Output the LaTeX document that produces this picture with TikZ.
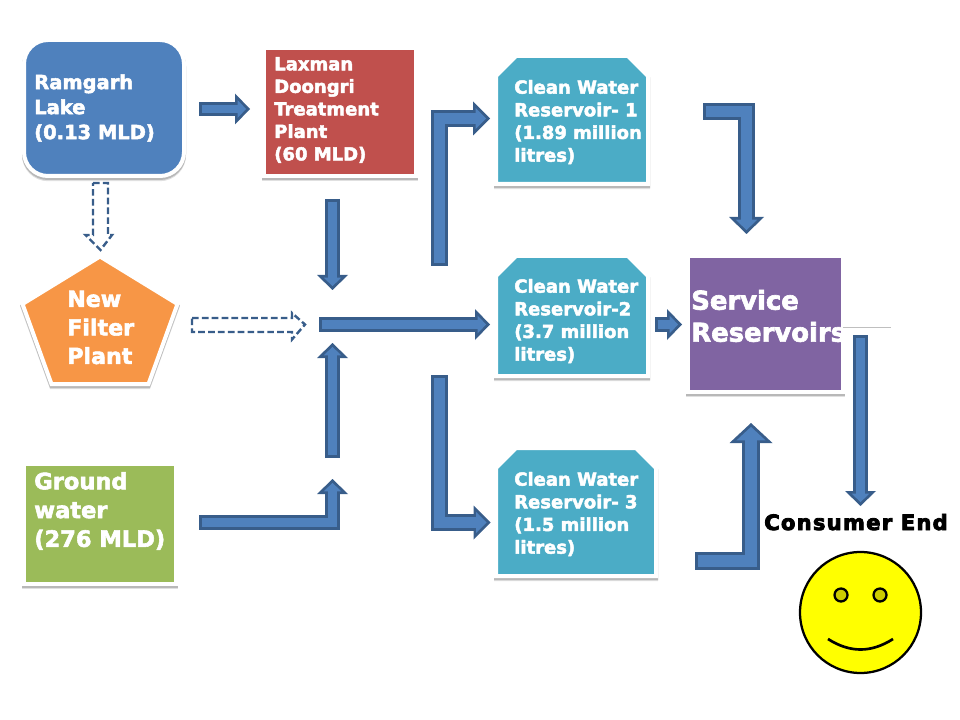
\documentclass[tikz,border=0pt]{standalone}
\usepackage{fontspec}
\setmainfont{DejaVu Sans}[BoldFeatures={FakeBold=2.5}]
\newfontfamily\blackfont{DejaVu Sans Bold}[FakeBold=4,LetterSpace=6]
\usetikzlibrary{arrows.meta}

\definecolor{lakeblue}{HTML}{4F81BD}
\definecolor{plantred}{HTML}{C0504D}
\definecolor{filterorange}{HTML}{F79646}
\definecolor{groundgreen}{HTML}{9BBB59}
\definecolor{clearteal}{HTML}{4BACC6}
\definecolor{servicepurple}{HTML}{8064A2}
\definecolor{flowedgecol}{HTML}{385D8A}
\definecolor{faceyellow}{HTML}{FFFF00}
\definecolor{eyeyellow}{HTML}{CCCC00}

\def\px{0.75pt}
\newcommand{\txt}[2]{\fontsize{#1}{#2}\selectfont\bfseries}

\tikzset{
  panel/.style={draw=white, line width=3pt, inner sep=0pt,
    preaction={draw=black!12, line width=3pt, transform canvas={yshift=-2.4pt}},
    preaction={draw=black!28, line width=3pt, transform canvas={yshift=-1.5pt}}},
  label text/.style={text=white, align=left, anchor=west, inner sep=0pt},
  flowedge/.style={draw=flowedgecol},
  flowfill/.style={draw=lakeblue},
  dashflow/.style={draw=flowedgecol, fill=white, line width=1.8pt, dash pattern=on 5pt off 2.4pt},
}

% block arrow: shaft width, head width, head length, path
\newcommand{\flowarrow}[4]{%
  \pgfmathsetmacro\headLo{#3*0.75}%
  \pgfmathsetmacro\headWo{#2*0.75}%
  \pgfmathsetmacro\headLi{(#3-6.5)*0.75}%
  \pgfmathsetmacro\headWi{#2*(#3-6.5)/#3*0.75}%
  \draw[flowedge, line width=#1*\px, -{Triangle[length=\headLo pt,width=\headWo pt,line width=0pt]}] #4;
  \draw[flowfill, line width=(#1-5.4)*\px, shorten <=2pt, shorten >=2.9pt,
    -{Triangle[length=\headLi pt,width=\headWi pt,line width=0pt]}] #4;
}

\begin{document}
\begin{tikzpicture}[x=0.75pt, y=-0.75pt]
  \useasboundingbox (0,0) rectangle (960,720);

  % sources and plants
  \node[panel, fill=lakeblue, rounded corners=18pt, minimum width=160*\px, minimum height=136*\px] (lake) at (104,108) {};
  \node[panel, fill=plantred, minimum width=152*\px, minimum height=128*\px] (plant) at (340,112) {};
  \node[panel, fill=groundgreen, minimum width=152*\px, minimum height=120*\px] (ground) at (100,524) {};
  \draw[panel, fill=filterorange] (100,256.5) coordinate (filterTop) -- (177.5,304) -- (148.5,384) -- (51.5,384) -- (22.5,304) -- cycle;
  \node[label text, font=\txt{14.6}{18.75}] (lakeText) at (34,108) {Ramgarh\\Lake\\(0.13 MLD)};
  \node[label text, font=\txt{13.5}{16.9}] (plantText) at (274,110) {Laxman\\Doongri\\Treatment\\Plant\\(60 MLD)};
  \node[label text, font=\txt{16.9}{21.6}] (groundText) at (34,511) {Ground\\water\\(276 MLD)};
  \node[label text, font=\txt{16.6}{21.4}] (filterText) at (67,327.5) {New\\Filter\\Plant};

  % reservoirs, top corners snipped
  \foreach \n/\r/\t/\b in {One/648/56/184, Two/648/256/376, Three/656/448/576}
    \draw[panel, fill=clearteal] (496,\t+20) coordinate (res\n) -- (516,\t) -- (\r-20,\t) -- (\r,\t+20) -- (\r,\b) -- (496,\b) -- cycle;
  \foreach \n/\y/\t in {One/122/Reservoir- 1\\(1.89 million\\litres), Two/321/Reservoir-2\\(3.7 million\\litres), Three/514/Reservoir- 3\\(1.5 million\\litres)}
    \node[label text, font=\txt{13.5}{17}] (text\n) at (514,\y) {Clean Water\\\t};

  \node[panel, fill=servicepurple, minimum width=155*\px, minimum height=136*\px] (service) at (765.5,324) {};
  \node[label text, font=\txt{19.4}{24}] (serviceText) at (691,316) {Service\\Reservoirs};
  % stub on the right of the service box
  \coordinate (stubA) at (843,326);
  \coordinate (stubB) at (891,326);
  \draw[black!25, line width=1.2pt, transform canvas={yshift=-0.8pt}] (stubA) -- (stubB);
  \draw[white, line width=1.1pt] (stubA) -- (stubB);

  % arrow ends
  \coordinate (lakeOut) at (199,109);
  \coordinate (plantIn) at (250,109);
  \coordinate (plantOut) at (332.5,199);
  \coordinate (plantFeed) at (332.5,290);
  \coordinate (mainStart) at (319,324.5);
  \coordinate (mainEnd) at (490,324.5);
  \coordinate (riseStart) at (332.5,458);
  \coordinate (riseEnd) at (332.5,343);
  \coordinate (groundOut) at (199,522.5);
  \coordinate (groundIn) at (332.5,479);
  \coordinate (upStart) at (439.5,266);
  \coordinate (upEnd) at (490,118.5);
  \coordinate (downStart) at (439.5,375);
  \coordinate (downEnd) at (490.5,522.5);
  \coordinate (twoOut) at (655,324.5);
  \coordinate (twoIn) at (682,324.5);
  \coordinate (oneOut) at (703,111.5);
  \coordinate (oneIn) at (746.5,234);
  \coordinate (serviceOut) at (860.5,335);
  \coordinate (consumerIn) at (860.5,506);
  \coordinate (threeOut) at (695,561);
  \coordinate (threeIn) at (751,423);

  % straight arrows
  \foreach \s/\w/\l/\a/\b in {14/31/15/lakeOut/plantIn, 15/31/15/plantOut/plantFeed, 15/31/15/mainStart/mainEnd,
      15/31/15/riseStart/riseEnd, 15/31/15/twoOut/twoIn, 15/31/15/serviceOut/consumerIn}
    \flowarrow{\s}{\w}{\l}{(\a) -- (\b)};
  % bent arrows
  \flowarrow{15}{31}{15}{(groundOut) -| (groundIn)}
  \flowarrow{17}{34}{17}{(upStart) |- (upEnd)}
  \flowarrow{17}{34}{17}{(downStart) |- (downEnd)}
  \flowarrow{17}{35}{17}{(oneOut) -| (oneIn)}
  \flowarrow{18}{43}{20}{(threeOut) -| (threeIn)}

  % dashed arrows from the filter plant line
  \coordinate (filterFeed) at (93,183);
  \coordinate (filterOut) at (192,318);
  \draw[dashflow] (filterFeed) -- ++(15,0) -- ++(0,52) -- ++(4,0) -- ++(-11.5,15) -- ++(-15,-15) -- ++(7.5,0) -- cycle;
  \draw[dashflow] (filterOut) -- ++(100,0) -- ++(0,-5) -- ++(13,11.5) -- ++(-13,15) -- ++(0,-7.5) -- ++(-100,0) -- cycle;

  % consumer
  \node[font=\fontsize{15.8}{18}\blackfont, anchor=base] (consumerText) at (856,530) {Consumer End};
  \node[circle, draw=black, line width=1.7pt, fill=faceyellow, minimum size=121*\px, inner sep=0pt] (face) at (860.5,612.5) {};
  \foreach \e/\x in {eyeL/841, eyeR/880}
    \node[circle, draw=black, line width=1.7pt, fill=eyeyellow, minimum size=13*\px, inner sep=0pt] (\e) at (\x,595) {};
  \draw[black, line width=2pt] (828,639) .. controls (850,653) and (871,653) .. (893,639);
\end{tikzpicture}
\end{document}
